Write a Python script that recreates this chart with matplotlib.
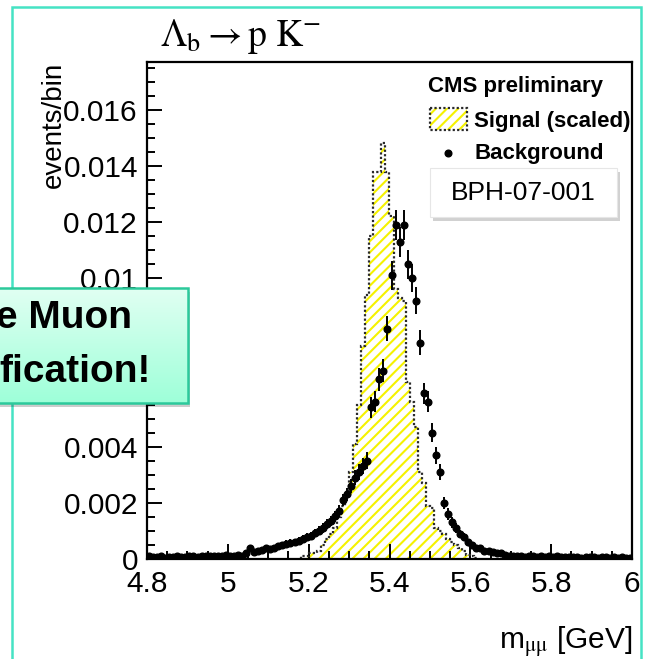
import numpy as np
import matplotlib
matplotlib.use("Agg")
import matplotlib.pyplot as plt
from matplotlib.patches import Rectangle, FancyBboxPatch

plt.rcParams["font.family"] = ["Liberation Sans", "DejaVu Sans"]
plt.rcParams["mathtext.fontset"] = "stix"
plt.rcParams["hatch.linewidth"] = 1.5

# ---- binning ---------------------------------------------------------------
mass_min, mass_max, bin_width = 4.8, 6.0, 0.01

# background (events/bin), one value per 10 MeV bin from 4.80 to 6.00 GeV
bkg_values = [
    0.00010, 0.00006, 0.00008, 0.00010, 0.00005, 0.00008, 0.00006, 0.00010, 0.00008, 0.00006,
    0.00009, 0.00010, 0.00008, 0.00011, 0.00009, 0.00010, 0.00012, 0.00010, 0.00009, 0.00013,
    0.00010, 0.00012, 0.00015, 0.00012, 0.00020, 0.00040, 0.00026, 0.00028, 0.00032, 0.00040,
    0.00035, 0.00040, 0.00045, 0.00050, 0.00055, 0.00058, 0.00060, 0.00065, 0.00072, 0.00080,
    0.00082, 0.00092, 0.00100, 0.00110, 0.00125, 0.00135, 0.00152, 0.00170, 0.00210, 0.00230,
    0.00260, 0.00290, 0.00310, 0.00330, 0.00350, 0.00540, 0.00560, 0.00640, 0.00670, 0.00820,
    0.01010, 0.01190, 0.01130, 0.01190, 0.01050, 0.01000, 0.00920, 0.00770, 0.00590, 0.00560,
    0.00450, 0.00370, 0.00310, 0.00200, 0.00160, 0.00130, 0.00110, 0.00090, 0.00080, 0.00060,
    0.00050, 0.00040, 0.00040, 0.00030, 0.00030, 0.00025, 0.00020, 0.00020, 0.00015, 0.00012,
    0.00010, 0.00012, 0.00010, 0.00008, 0.00010, 0.00009, 0.00008, 0.00010, 0.00007, 0.00009,
    0.00008, 0.00010, 0.00007, 0.00008, 0.00006, 0.00008, 0.00007, 0.00005, 0.00008, 0.00006,
    0.00007, 0.00005, 0.00008, 0.00006, 0.00005, 0.00007, 0.00005, 0.00006, 0.00004, 0.00005,
]
# relative Poisson error scale of the weighted background entries
bkg_err_scale = 0.005

# scaled signal, 10 MeV bins starting at 5.18 GeV
sig_start = 5.18
sig_values = [
    0.0001, 0.0001, 0.0002, 0.0002, 0.0003, 0.0005, 0.0007, 0.0009, 0.0011, 0.0015,
    0.0019, 0.0024, 0.0031, 0.0041, 0.0055, 0.0076, 0.0094, 0.0115, 0.0138, 0.0138,
    0.0148, 0.0138, 0.0122, 0.0096, 0.0093, 0.0092, 0.0063, 0.0056, 0.0047, 0.0031,
    0.0027, 0.0019, 0.0018, 0.0011, 0.0010, 0.0009, 0.0007, 0.0006, 0.0005, 0.0004,
    0.0003, 0.00015, 0.0001, 0.00005,
]

xticks = [4.8, 5.0, 5.2, 5.4, 5.6, 5.8, 6.0]
xtick_labels = ["4.8", "5", "5.2", "5.4", "5.6", "5.8", "6"]
yticks = [0.0, 0.002, 0.004, 0.006, 0.008, 0.010, 0.012, 0.014, 0.016]
ytick_labels = ["0", "0.002", "0.004", "0.006", "0.008", "0.01", "0.012", "0.014", "0.016"]
y_max = 0.0177

# ---- figure ----------------------------------------------------------------
W, H = 645, 659
fig = plt.figure(figsize=(W / 100, H / 100), dpi=100)
fig.patch.set_facecolor("white")

ax_l, ax_r, ax_t, ax_b = 147, 632, 62, 559
ax = fig.add_axes([ax_l / W, 1 - ax_b / H, (ax_r - ax_l) / W, (ax_b - ax_t) / H])

yellow = "#f5f200"
bkg = np.asarray(bkg_values)
bkg_edges = mass_min + bin_width * np.arange(len(bkg) + 1)
bkg_centers = bkg_edges[:-1] + bin_width / 2
bkg_err = bkg_err_scale * np.sqrt(bkg)

sig = np.asarray(sig_values)
sig_edges = sig_start + bin_width * np.arange(len(sig) + 1)

ax.stairs(sig, sig_edges, fill=True, facecolor="white", edgecolor=yellow,
          hatch="///", linewidth=0, zorder=1)
ax.stairs(sig, sig_edges, fill=False, color="#2a2a2a", linewidth=1.6,
          linestyle=(0, (1, 1)), zorder=2)
ax.errorbar(bkg_centers, bkg, yerr=bkg_err, fmt="o", color="black", ms=4.8,
            elinewidth=1.4, capsize=0, zorder=3)

ax.set_xlim(mass_min, mass_max)
ax.set_ylim(0, y_max)
ax.set_xticks(xticks)
ax.set_xticklabels(xtick_labels)
ax.set_yticks(yticks)
ax.set_yticklabels(ytick_labels)
ax.set_xticks(np.arange(mass_min, mass_max + 1e-9, 0.05), minor=True)
ax.set_yticks(np.arange(0, y_max, 0.0005), minor=True)
ax.tick_params(axis="both", which="major", direction="in", length=11, width=1.4,
               labelsize=21.5, top=False, right=False)
ax.tick_params(axis="both", which="minor", direction="in", length=5.5, width=1.4,
               top=False, right=False)
ax.tick_params(axis="y", which="major", pad=6.5)
ax.tick_params(axis="x", which="major", pad=8)
for s in ax.spines.values():
    s.set_linewidth(1.6)

# ---- overlay in pixel coordinates -----------------------------------------
deco = fig.add_axes([0, 0, 1, 1], zorder=10)
deco.set_xlim(0, W)
deco.set_ylim(H, 0)
deco.axis("off")
deco.patch.set_alpha(0)

# slide frame
frame = "#45e3c4"
deco.plot([12, 12, 641, 641], [H + 5, 7, 7, H + 5], color=frame, lw=1.8,
          solid_joinstyle="miter", zorder=1)

# axis titles
deco.text(54, 62, "events/bin", rotation=90, ha="center", va="top", fontsize=20)
deco.text(632, 648, r"m$_{\mathrm{\mu\mu}}$ [GeV]", ha="right", va="baseline",
          fontsize=21.5)
deco.text(160, 46, r"$\mathrm{\Lambda_b \rightarrow p\ K^{-}}$", ha="left",
          va="baseline", fontsize=27)

# legend
deco.text(428, 92, "CMS preliminary", ha="left", va="baseline", fontsize=16,
          fontweight="bold")
deco.add_patch(Rectangle((430, 108), 37, 22, facecolor="white", edgecolor=yellow,
                         hatch="///", linewidth=0, zorder=2))
deco.add_patch(Rectangle((430, 108), 37, 22, fill=False, edgecolor="#2a2a2a",
                         linewidth=1.6, linestyle=(0, (1, 1)), zorder=3))
deco.text(474, 127, "Signal (scaled)", ha="left", va="baseline", fontsize=16,
          fontweight="bold")
deco.plot([448], [153], "o", color="black", ms=4.8)
deco.text(475, 159, "Background", ha="left", va="baseline", fontsize=16,
          fontweight="bold")

# report number box with drop shadow
deco.add_patch(FancyBboxPatch((433, 172), 187, 49, boxstyle="square,pad=0",
                              facecolor="#000000", alpha=0.18, linewidth=0, zorder=4))
deco.add_patch(FancyBboxPatch((430, 168), 187, 49, boxstyle="square,pad=0",
                              facecolor="white", edgecolor="#e6e6e6", linewidth=0.8,
                              zorder=5))
deco.text(523.5, 193, "BPH-07-001", ha="center", va="center", fontsize=19, zorder=6)

# callout box with vertical gradient
cx0, cx1, cy0, cy1 = -6, 188, 288, 403
deco.add_patch(Rectangle((cx0 + 2, cy0 + 4), cx1 - cx0, cy1 - cy0, facecolor="black",
                         alpha=0.2, linewidth=0, zorder=7))
grad = np.linspace(0, 1, 64)[:, None, None]
top_c = np.array([0.88, 1.0, 0.95])
bot_c = np.array([0.62, 1.0, 0.85])
img = top_c * (1 - grad) + bot_c * grad
deco.imshow(img, extent=(cx0, cx1, cy1, cy0), aspect="auto", zorder=8,
            interpolation="bilinear")
deco.add_patch(Rectangle((cx0, cy0), cx1 - cx0, cy1 - cy0, fill=False,
                         edgecolor="#2cc99b", linewidth=1.8, zorder=9))
deco.text(132, 328, "e Muon", ha="right", va="baseline", fontsize=28,
          fontweight="bold", zorder=10)
deco.text(151, 382, "fication!", ha="right", va="baseline", fontsize=28,
          fontweight="bold", zorder=10)
deco.set_xlim(0, W)
deco.set_ylim(H, 0)

fig.savefig("out.png", dpi=100)
